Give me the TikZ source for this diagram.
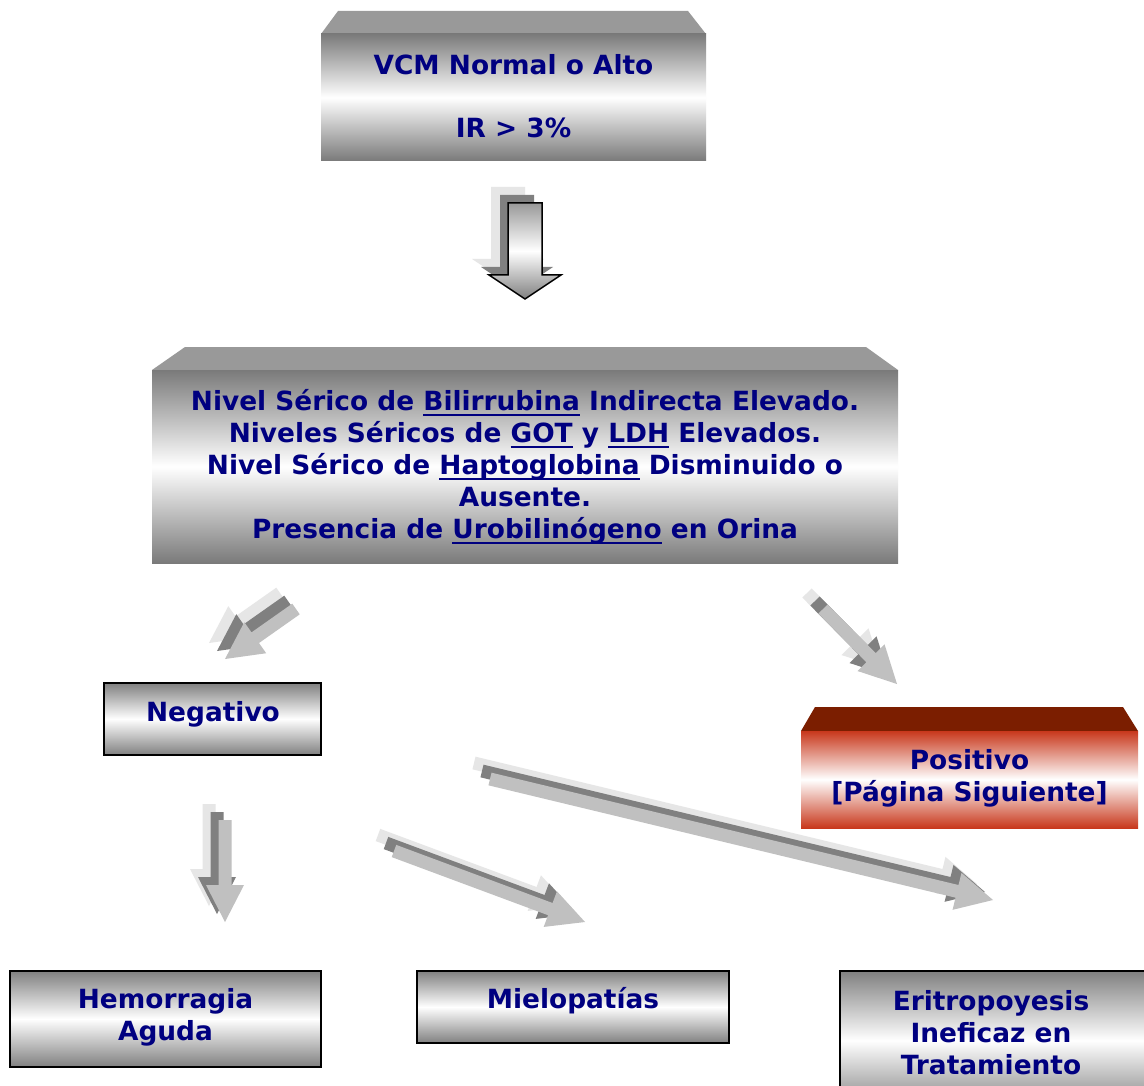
\documentclass[tikz,border=0pt]{standalone}
\usepackage{fontspec}
\setmainfont{DejaVu Sans}
\usetikzlibrary{calc}
\definecolor{navyt}{HTML}{000080}
\definecolor{topgray}{HTML}{999999}
\definecolor{facegray}{HTML}{7A7A7A}
\definecolor{lightsh}{HTML}{E6E6E6}
\definecolor{darksh}{HTML}{808080}
\definecolor{frontar}{HTML}{C0C0C0}
\definecolor{redtop}{HTML}{7B1E00}
\definecolor{redface}{HTML}{C8381C}
\newsavebox\ulbox
\newcommand\myul[1]{\sbox\ulbox{#1}\rlap{\rule[-5pt]{\wd\ulbox}{2pt}}\usebox\ulbox}
\newcommand\blockarrow[7]{%
  \coordinate (bT) at ($(#1)+#3$);
  \coordinate (bH) at ($(#2)+#3$);
  \coordinate (bB) at ($(bH)!#6!(bT)$);
  \path[#7] ($(bT)!#4!90:(bH)$) -- ($(bB)!#4!-90:(bT)$) -- ($(bB)!#5!-90:(bT)$) -- (bH)
    -- ($(bB)!#5!90:(bT)$) -- ($(bB)!#4!90:(bT)$) -- ($(bT)!#4!-90:(bH)$) -- cycle;}
\begin{document}
\begin{tikzpicture}[x=1pt,y=-1pt,
  txt/.style={font=\bfseries\fontsize{26.4}{32}\selectfont, text=navyt, align=center, inner sep=0pt},
  grayface/.style={top color=facegray, bottom color=facegray, middle color=white},
  boxface/.style={draw=black, line width=2pt, top color=darksh, bottom color=darksh, middle color=white},
  redfacest/.style={top color=redface, bottom color=redface, middle color=white},
  shlight/.style={fill=lightsh},
  shdark/.style={fill=darksh},
  shfront/.style={fill=frontar}]
\useasboundingbox (0,0) rectangle (1144,1086);
\clip (0,0) rectangle (1144,1086);
\fill[white] (0,0) rectangle (1144,1086);

% top box
\fill[topgray] (338,11) -- (688,11) -- (706,34) -- (321,34) -- cycle;
\shade[grayface] (321,34) rectangle (706,161);
\node[txt] (vcm) at (513.5,96) {VCM Normal o Alto\\[31pt]IR > 3\%};

% middle box
\fill[topgray] (185,347) -- (866,347) -- (898,370) -- (152,370) -- cycle;
\shade[grayface] (152,370) rectangle (898,563);
\node[txt] (lab) at (525,467) {Nivel Sérico de \myul{Bilirrubina} Indirecta Elevado.\\
Niveles Séricos de \myul{GOT} y \myul{LDH} Elevados.\\
Nivel Sérico de \myul{Haptoglobina} Disminuido o\\
Ausente.\\
Presencia de \myul{Urobilinógeno} en Orina};

% Negativo
\shade[boxface] (104,683) rectangle (321,755);
\node[txt] (neg) at (213,714) {Negativo};

% Positivo
\fill[redtop] (815,707) -- (1123,707) -- (1138,731) -- (801,731) -- cycle;
\shade[redfacest] (801,731) rectangle (1138,828);
\node[txt] (pos) at (969.5,778) {Positivo\\{[}Página Siguiente{]}};

% bottom boxes
\shade[boxface] (10,971) rectangle (321,1067);
\node[txt] (hem) at (165.5,1017) {Hemorragia\\Aguda};
\shade[boxface] (417,971) rectangle (729,1043);
\node[txt] (mie) at (573,1001) {Mielopatías};
\shade[boxface] (840,971) rectangle (1160,1110);
\node[txt] (eri) at (991,1033) {Eritropoyesis\\Ineficaz en\\Tratamiento};

% arrows
\coordinate (a1t) at (525,203); \coordinate (a1h) at (525,299);
\blockarrow{a1t}{a1h}{(-17,-16)}{17pt}{36pt}{24pt}{shlight}
\blockarrow{a1t}{a1h}{(-8,-8)}{17pt}{36pt}{24pt}{shdark}
\blockarrow{a1t}{a1h}{(0,0)}{17pt}{36pt}{24pt}{draw=black,line width=1.5pt,top color=topgray,bottom color=darksh,middle color=white}

\coordinate (a2t) at (296,609); \coordinate (a2h) at (225,659);
\coordinate (a3t) at (823,609); \coordinate (a3h) at (897,684);
\coordinate (a4t) at (225,820); \coordinate (a4h) at (225,922);
\coordinate (a5t) at (394,851); \coordinate (a5h) at (585,922);
\coordinate (a6t) at (490,779); \coordinate (a6h) at (993,900);
\foreach \a in {a2,a3,a4,a5,a6}{
  \blockarrow{\a t}{\a h}{(-16,-16)}{6.5pt}{19pt}{37pt}{shlight}
  \blockarrow{\a t}{\a h}{(-8,-8)}{6.5pt}{19pt}{37pt}{shdark}
  \blockarrow{\a t}{\a h}{(0,0)}{6.5pt}{19pt}{37pt}{shfront}
}
\end{tikzpicture}
\end{document}
